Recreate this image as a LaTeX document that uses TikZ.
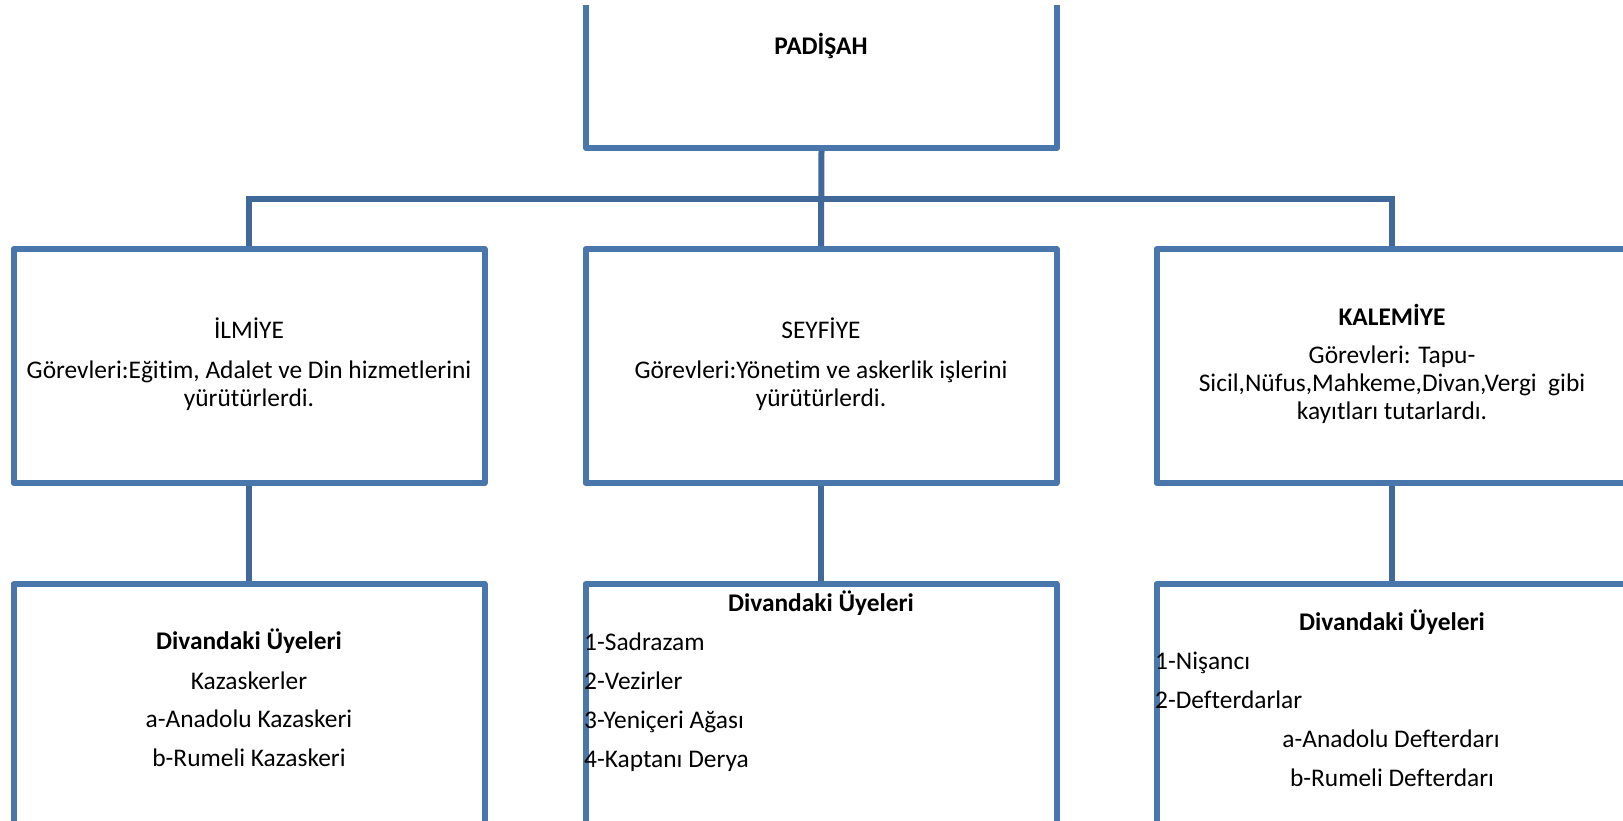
\documentclass[tikz,border=0pt]{standalone}
\usepackage{fontspec}
\setmainfont{Carlito}[Ligatures={NoCommon}]
\definecolor{boxblue}{RGB}{74,119,171}
\definecolor{linkblue}{RGB}{64,104,152}
\tikzset{
  box/.style={rectangle, draw=boxblue, line width=6pt, line join=round, inner sep=0pt},
  link/.style={draw=linkblue, line width=6pt},
  txt/.style={anchor=base, inner sep=0pt, font=\fontsize{25.4}{30}\selectfont},
  ltxt/.style={txt, anchor=base west}
}
\begin{document}
\begin{tikzpicture}[x=1pt, y=-1pt]
	\useasboundingbox (0,0) rectangle (1623,821);
	\clip (0,6) rectangle (1623,821);

	% boxes
	\node[box, minimum width=471pt, minimum height=198pt] (padisah) at (821.5, 49) {};
	\node[box, minimum width=471pt, minimum height=234pt] (ilmiye) at (249, 366) {};
	\node[box, minimum width=471pt, minimum height=234pt] (seyfiye) at (821, 366) {};
	\node[box, minimum width=471pt, minimum height=234pt] (kalemiye) at (1392, 366) {};
	\node[box, minimum width=471pt, minimum height=316pt] (ilmuye) at (249, 742) {};
	\node[box, minimum width=471pt, minimum height=316pt] (seyuye) at (821, 742) {};
	\node[box, minimum width=471pt, minimum height=316pt] (kaluye) at (1392, 742) {};

	% connectors
	\coordinate (bar) at (821, 199);
	\draw[link] (padisah.south) -- (seyfiye.north);
	\draw[link] (ilmiye.north) |- (bar) -| (kalemiye.north);
	\draw[link] (ilmiye.south) -- (ilmuye.north);
	\draw[link] (seyfiye.south) -- (seyuye.north);
	\draw[link] (kalemiye.south) -- (kaluye.north);

	% texts
	\node[txt] (t0) at (821, 55) {\textbf{PADİŞAH}};

	\node[txt] (t1) at (249, 338) {İLMİYE};
	\node[txt] (t2) at (249, 378.5) {Görevleri:Eğitim, Adalet ve Din hizmetlerini};
	\node[txt] (t3) at (249, 406) {yürütürlerdi.};

	\node[txt] (t4) at (821, 338) {SEYFİYE};
	\node[txt] (t5) at (821, 378.5) {Görevleri:Yönetim ve askerlik işlerini};
	\node[txt] (t6) at (821, 406) {yürütürlerdi.};

	\node[txt] (t7) at (1392, 325) {\textbf{KALEMİYE}};
	\node[txt] (t8) at (1392, 363.3) {Görevleri: Tapu-};
	\node[txt] (t9) at (1392, 391.7) {Sicil,Nüfus,Mahkeme,Divan,Vergi\ \ gibi};
	\node[txt] (t10) at (1392, 419.3) {kayıtları tutarlardı.};

	\node[txt] (u1) at (249, 649.3) {\textbf{Divandaki Üyeleri}};
	\node[txt] (u2) at (249, 689.3) {Kazaskerler};
	\node[txt] (u3) at (249, 727.7) {a-Anadolu Kazaskeri};
	\node[txt] (u4) at (249, 766.7) {b-Rumeli Kazaskeri};

	\node[txt] (v1) at (821, 611.7) {\textbf{Divandaki Üyeleri}};
	\node[ltxt] (v2) at (584, 650.7) {1-Sadrazam};
	\node[ltxt] (v3) at (584, 689.3) {2-Vezirler};
	\node[ltxt] (v4) at (584, 728.3) {3-Yeniçeri Ağası};
	\node[ltxt] (v5) at (584, 767.3) {4-Kaptanı Derya};

	\node[txt] (w1) at (1392, 630) {\textbf{Divandaki Üyeleri}};
	\node[ltxt] (w2) at (1155, 669.3) {1-Nişancı};
	\node[ltxt] (w3) at (1155, 708.3) {2-Defterdarlar};
	\node[txt] (w4) at (1391, 747.3) {a-Anadolu Defterdarı};
	\node[txt] (w5) at (1392, 786) {b-Rumeli Defterdarı};
\end{tikzpicture}
\end{document}
